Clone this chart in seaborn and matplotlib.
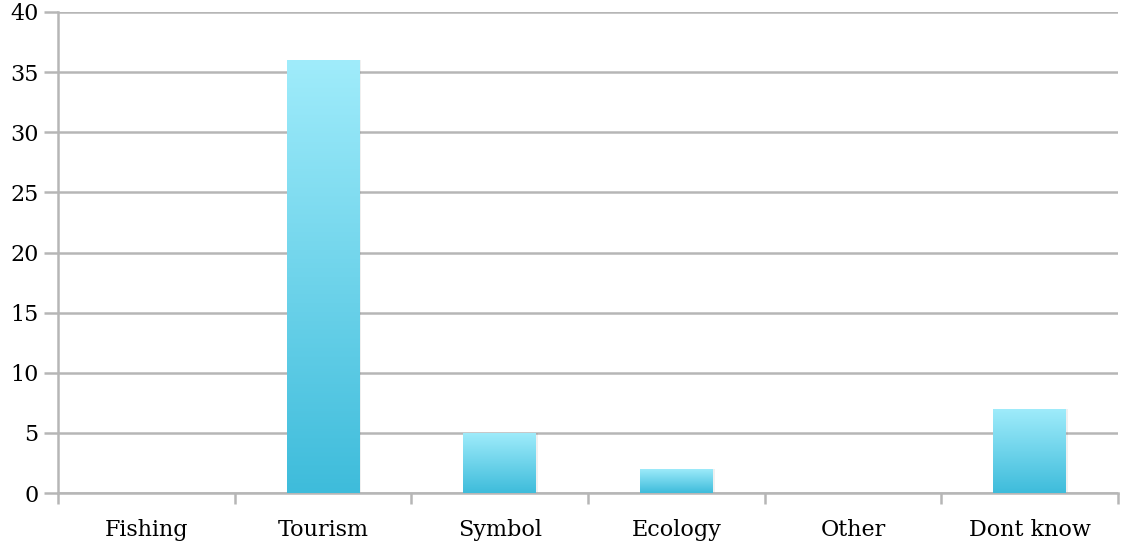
import numpy as np
import pandas as pd
import matplotlib
matplotlib.use("Agg")
import matplotlib.pyplot as plt
import seaborn as sns
from matplotlib.colors import LinearSegmentedColormap

categories = ["Fishing", "Tourism", "Symbol", "Ecology", "Other", "Dont know"]
counts = [0, 36, 5, 2, 0, 7]
y_ticks = [0, 5, 10, 15, 20, 25, 30, 35, 40]

df = pd.DataFrame({"category": categories, "count": counts})

sns.set_theme(style="white")
plt.rcParams["font.family"] = ["DejaVu Serif"]

fig = plt.figure(figsize=(11.21, 5.48), dpi=100)
ax = fig.add_axes([58 / 1121, (548 - 493) / 548, (1118 - 58) / 1121, (493 - 12) / 548])

sns.barplot(data=df, x="category", y="count", color="#5fd0ea", width=0.41,
            ax=ax, zorder=3, linewidth=0)

ax.set_ylim(0, 40)
ax.set_xlim(-0.5, len(categories) - 0.5)
ax.set_yticks(y_ticks)
ax.set_xlabel("")
ax.set_ylabel("")

grid_col = "#b6b6b6"
for v in y_ticks:
    ax.axhline(v, color=grid_col, lw=1.8, zorder=1)

# vertical gradient fill for each bar: light cyan at the top, deeper at the base
cmap = LinearSegmentedColormap.from_list("bar", ["#3ebcdb", "#a0ecfb"])
grad = np.linspace(0, 1, 256).reshape(-1, 1)
for patch in ax.patches:
    h = patch.get_height()
    if h <= 0:
        continue
    x0 = patch.get_x()
    w = patch.get_width()
    patch.set_facecolor("none")
    # soft shadow beside the bar
    ax.add_patch(plt.Rectangle((x0 + 0.012, 0), w, h, facecolor="#000000",
                               alpha=0.06, lw=0, zorder=2))
    im = ax.imshow(grad, extent=(x0, x0 + w, 0, h), origin="lower", cmap=cmap,
                   aspect="auto", zorder=3, interpolation="bicubic")
    im.set_clip_path(patch)

ax.set_xlim(-0.5, len(categories) - 0.5)
ax.set_ylim(0, 40)

for s in ["top", "right"]:
    ax.spines[s].set_visible(False)
ax.spines["left"].set_color(grid_col)
ax.spines["left"].set_linewidth(1.8)
ax.spines["bottom"].set_color(grid_col)
ax.spines["bottom"].set_linewidth(1.8)

# category boundary ticks on the x axis
ax.set_xticks(np.arange(-0.5, len(categories), 1.0), minor=True)
ax.tick_params(axis="x", which="major", length=0, pad=19, labelsize=16,
               labelcolor="#000000")
ax.tick_params(axis="x", which="minor", length=8, width=1.8, color=grid_col,
               direction="out", bottom=True)
ax.tick_params(axis="y", which="major", length=10, width=1.8, color=grid_col,
               pad=4, labelsize=16, labelcolor="#000000", left=True)

fig.savefig("out.png", dpi=100, facecolor="white")
